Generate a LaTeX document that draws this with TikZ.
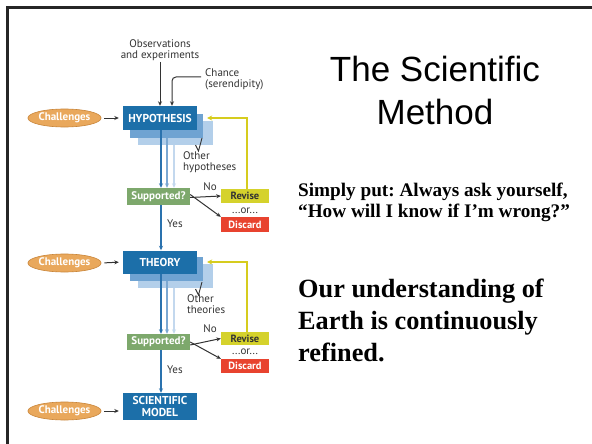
\documentclass[tikz,border=0pt]{standalone}
\usepackage{fontspec}
\setmainfont{Liberation Serif}
\newfontfamily\arialfont{Liberation Sans}
\newfontfamily\diagfont{PT Sans}
\usetikzlibrary{shapes.geometric,arrows.meta}
\definecolor{hypblue}{HTML}{1C6FA9}
\definecolor{shadeA}{HTML}{6FA3D2}
\definecolor{shadeB}{HTML}{B3CFEA}
\definecolor{arrA}{HTML}{2A72AE}
\definecolor{arrB}{HTML}{7BA8D2}
\definecolor{arrC}{HTML}{C3D8EE}
\definecolor{supgreen}{HTML}{7DA86C}
\definecolor{revyellow}{HTML}{D5D22C}
\definecolor{discred}{HTML}{E8432F}
\definecolor{challorange}{HTML}{E9A85C}
\definecolor{challedge}{HTML}{C98538}
\definecolor{fbyellow}{HTML}{D6CC1E}
\tikzset{
  mainbox/.style={rectangle, fill=hypblue, text=white, font=\diagfont\bfseries\fontsize{11.5}{12}\selectfont, minimum width=74pt, minimum height=24pt, inner sep=0pt, align=center},
  shadowA/.style={rectangle, fill=shadeA, minimum width=73pt, minimum height=24pt, inner sep=0pt},
  shadowB/.style={rectangle, fill=shadeB, minimum width=75pt, minimum height=24pt, inner sep=0pt},
  supbox/.style={rectangle, fill=supgreen, text=white, font=\diagfont\bfseries\fontsize{11}{11}\selectfont, minimum width=63pt, minimum height=17pt, inner sep=0pt},
  revbox/.style={rectangle, fill=revyellow, text=black!80, font=\diagfont\bfseries\fontsize{10.5}{11}\selectfont, minimum width=48pt, minimum height=14pt, inner sep=0pt},
  discbox/.style={rectangle, fill=discred, text=white, font=\diagfont\bfseries\fontsize{10.5}{11}\selectfont, minimum width=48pt, minimum height=15pt, inner sep=0pt},
  chall/.style={ellipse, fill=challorange, draw=challedge, line width=0.6pt, text=white, font=\diagfont\bfseries\fontsize{11}{11}\selectfont, minimum width=65pt, minimum height=18pt, inner sep=0pt},
  lbl/.style={font=\diagfont\fontsize{11}{11.5}\selectfont, text=black!80, inner sep=0pt, align=left},
  arr/.style={-{Stealth[length=4.5pt,width=4pt]}, draw=black!80, line width=1pt},
  barrA/.style={-{Stealth[length=4.5pt,width=4pt]}, draw=arrA, line width=1.4pt},
  barrB/.style={-{Stealth[length=4.5pt,width=4pt]}, draw=arrB, line width=1.4pt},
  barrC/.style={-{Stealth[length=4.5pt,width=4pt]}, draw=arrC, line width=1.4pt},
  yarr/.style={-{Stealth[length=5pt,width=5pt]}, draw=fbyellow, line width=2pt},
}
\begin{document}
\begin{tikzpicture}[x=1pt,y=-1pt]
\useasboundingbox (0,0) rectangle (592,444);
\fill[white] (0,0) rectangle (592,444);
% frame
\draw[line width=2.5pt, black!85] (7.5,444) -- (7.5,7.5) -- (592,7.5);

% ---------- block 1 ----------
\node[shadowB] (hypS2) at (175.5,132.5) {};
\node[shadowA] (hypS1) at (166.5,125.5) {};
\node[mainbox] (hyp) at (160,118) {HYPOTHESIS};
\node[chall] (ch1) at (64.5,118) {Challenges};
\draw[arr, shorten <=3pt, shorten >=4pt] (ch1.east) -- (hyp.west);

\node[lbl, align=center] (obs) at (160,50) {Observations\\and experiments};
\node[lbl, anchor=north west] (chance) at (205,68) {Chance\\(serendipity)};
\coordinate (chturn) at (172,77);
\draw[arr] ([yshift=-1pt]obs.south) -- (obs.south |- hyp.north);
\draw[arr, rounded corners=4pt] ([xshift=-4pt]chance.west |- chturn) -- (chturn) -- (chturn |- hyp.north);

\node[supbox] (sup1) at (158.5,196.5) {Supported?};
\draw[barrC] ([xshift=14pt]hyp.south |- hypS2.south) -- ([xshift=14pt]hyp.south |- sup1.north);
\draw[barrB] ([xshift=7pt]hyp.south |- hypS1.south) -- ([xshift=7pt]hyp.south |- sup1.north);
\draw[barrA] ([xshift=1pt]hyp.south) -- ([xshift=1pt]hyp.south |- sup1.north);

\draw[black!80, line width=0.9pt] (195.5,145) -- (198.5,151) -- (202,138);
\node[lbl, anchor=north west] (oth1) at (183,151) {Other\\hypotheses};

\node[revbox] (rev1) at (245,196) {Revise};
\node[lbl] (or1) at (245,211) {...or...};
\node[discbox] (dis1) at (245,224.5) {Discard};
\node[lbl] (no1) at (210,187) {No};
\draw[arr] ([yshift=-1pt]sup1.east) -- (rev1.west);
\draw[arr] ([yshift=2pt]sup1.east) -- (dis1.north west);
\coordinate (fb1) at ([xshift=4pt]hypS1.east |- hyp.east);
\draw[yarr] ([xshift=2pt]rev1.north) -- ([xshift=2pt]rev1.north |- hyp.east) -- (fb1);

% ---------- block 2 ----------
\node[shadowB] (thS2) at (175.5,276) {};
\node[shadowA] (thS1) at (166.5,269) {};
\node[mainbox, minimum height=23pt] (th) at (160,262) {THEORY};
\node[chall] (ch2) at (64.5,263) {Challenges};
\draw[arr, shorten <=3pt, shorten >=4pt] (ch2.east) -- (th.west);

\draw[barrA] ([xshift=2.5pt]sup1.south) -- ([xshift=2.5pt]sup1.south |- th.north);
\node[lbl, anchor=west] (yes1) at (167,224) {Yes};

\node[supbox, minimum height=16pt] (sup2) at (158.5,342) {Supported?};
\draw[barrC] ([xshift=14pt]th.south |- thS2.south) -- ([xshift=14pt]th.south |- sup2.north);
\draw[barrB] ([xshift=7pt]th.south |- thS1.south) -- ([xshift=7pt]th.south |- sup2.north);
\draw[barrA] ([xshift=1pt]th.south) -- ([xshift=1pt]th.south |- sup2.north);

\draw[black!80, line width=0.9pt] (195.5,289) -- (198.5,295) -- (202,282);
\node[lbl, anchor=north west] (oth2) at (187,294) {Other\\theories};

\node[revbox, minimum height=13pt] (rev2) at (245,338.5) {Revise};
\node[lbl] (or2) at (245,352) {...or...};
\node[discbox, minimum height=14pt] (dis2) at (245,366) {Discard};
\node[lbl] (no2) at (210,329) {No};
\draw[arr] ([yshift=-3pt]sup2.east) -- (rev2.west);
\draw[arr] ([yshift=0pt]sup2.east) -- (dis2.north west);
\coordinate (fb2) at ([xshift=4pt]thS1.east |- th.east);
\draw[yarr] ([xshift=2pt]rev2.north) -- ([xshift=2pt]rev2.north |- th.east) -- (fb2);

% ---------- block 3 ----------
\node[mainbox, minimum height=27pt] (sm) at (160,406.5) {SCIENTIFIC\\MODEL};
\node[chall] (ch3) at (64.5,411) {Challenges};
\draw[arr, shorten <=3pt, shorten >=4pt] (ch3.east) -- (ch3.east -| sm.west);
\draw[barrA] ([xshift=2.5pt]sup2.south) -- ([xshift=2.5pt]sup2.south |- sm.north);
\node[lbl, anchor=west] (yes2) at (167,370) {Yes};

% ---------- right side text ----------
\node[font=\arialfont\fontsize{35}{43}\selectfont, align=center, inner sep=0pt] (title) at (435,90) {The Scientific\\Method};
\node[font=\bfseries\fontsize{19.2}{21}\selectfont, align=left, anchor=west, inner sep=0pt] (simply) at (298,202) {\frenchspacing Simply put: Always ask yourself,\\“How will I know if I’m wrong?”};
\node[font=\bfseries\fontsize{26.3}{32}\selectfont, align=left, anchor=west, inner sep=0pt] (ours) at (298,320) {Our understanding of\\Earth is continuously\\refined.};
\end{tikzpicture}
\end{document}
